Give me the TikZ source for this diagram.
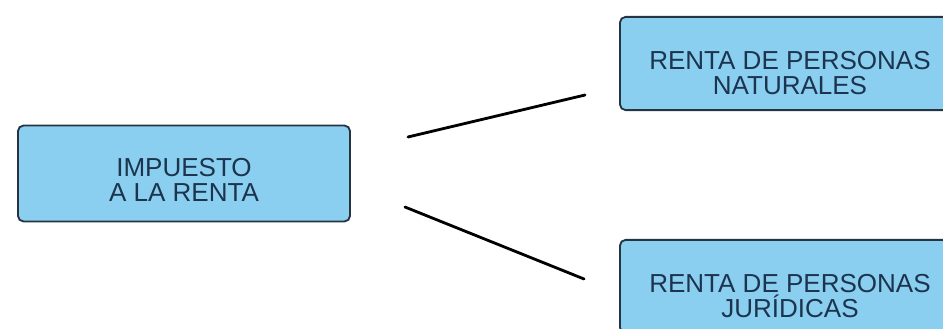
\documentclass[tikz,border=0pt]{standalone}
\usepackage{fontspec}
\setmainfont{Liberation Sans}
\usepackage{tikz}
\usetikzlibrary{positioning, calc}
\definecolor{boxfill}{RGB}{138,207,240}
\definecolor{boxline}{RGB}{38,52,66}
\definecolor{boxtext}{RGB}{28,52,78}

\begin{document}
\begin{tikzpicture}[x=0.025cm, y=-0.025cm,
    box/.style={draw=boxline, line width=1.3pt, fill=boxfill, rounded corners=4pt,
      minimum width=8.3cm, minimum height=2.4cm, inner sep=0pt},
    sidebox/.style={box, minimum width=8.5cm, minimum height=2.33cm},
    lbl/.style={text=boxtext, align=center, font=\fontsize{18.5}{17.8}\selectfont},
    link/.style={line width=2pt, line cap=round}]
      \useasboundingbox (0, 0) rectangle (943, 329);
      \clip (0, 0) rectangle (943, 329);

      \node[box, label={[lbl, yshift=-0.15cm]center:IMPUESTO\\A LA RENTA}] (imp) at (184, 173.5) {};
      \node[sidebox, label={[lbl, yshift=-0.24cm]center:RENTA DE PERSONAS\\NATURALES}] (nat) at (790, 63.5) {};
      \node[sidebox, label={[lbl, yshift=-0.24cm]center:RENTA DE PERSONAS\\JUR\'IDICAS}] (jur) at (790, 286.5) {};

      \draw[link] ($(imp.east) + (57, -36.5)$) -- ($(nat.west) + (-34, 31.5)$);
      \draw[link] ($(imp.east) + (54, 33.5)$) -- ($(jur.west) + (-35, -7.5)$);

    \end{tikzpicture}
\end{document}
